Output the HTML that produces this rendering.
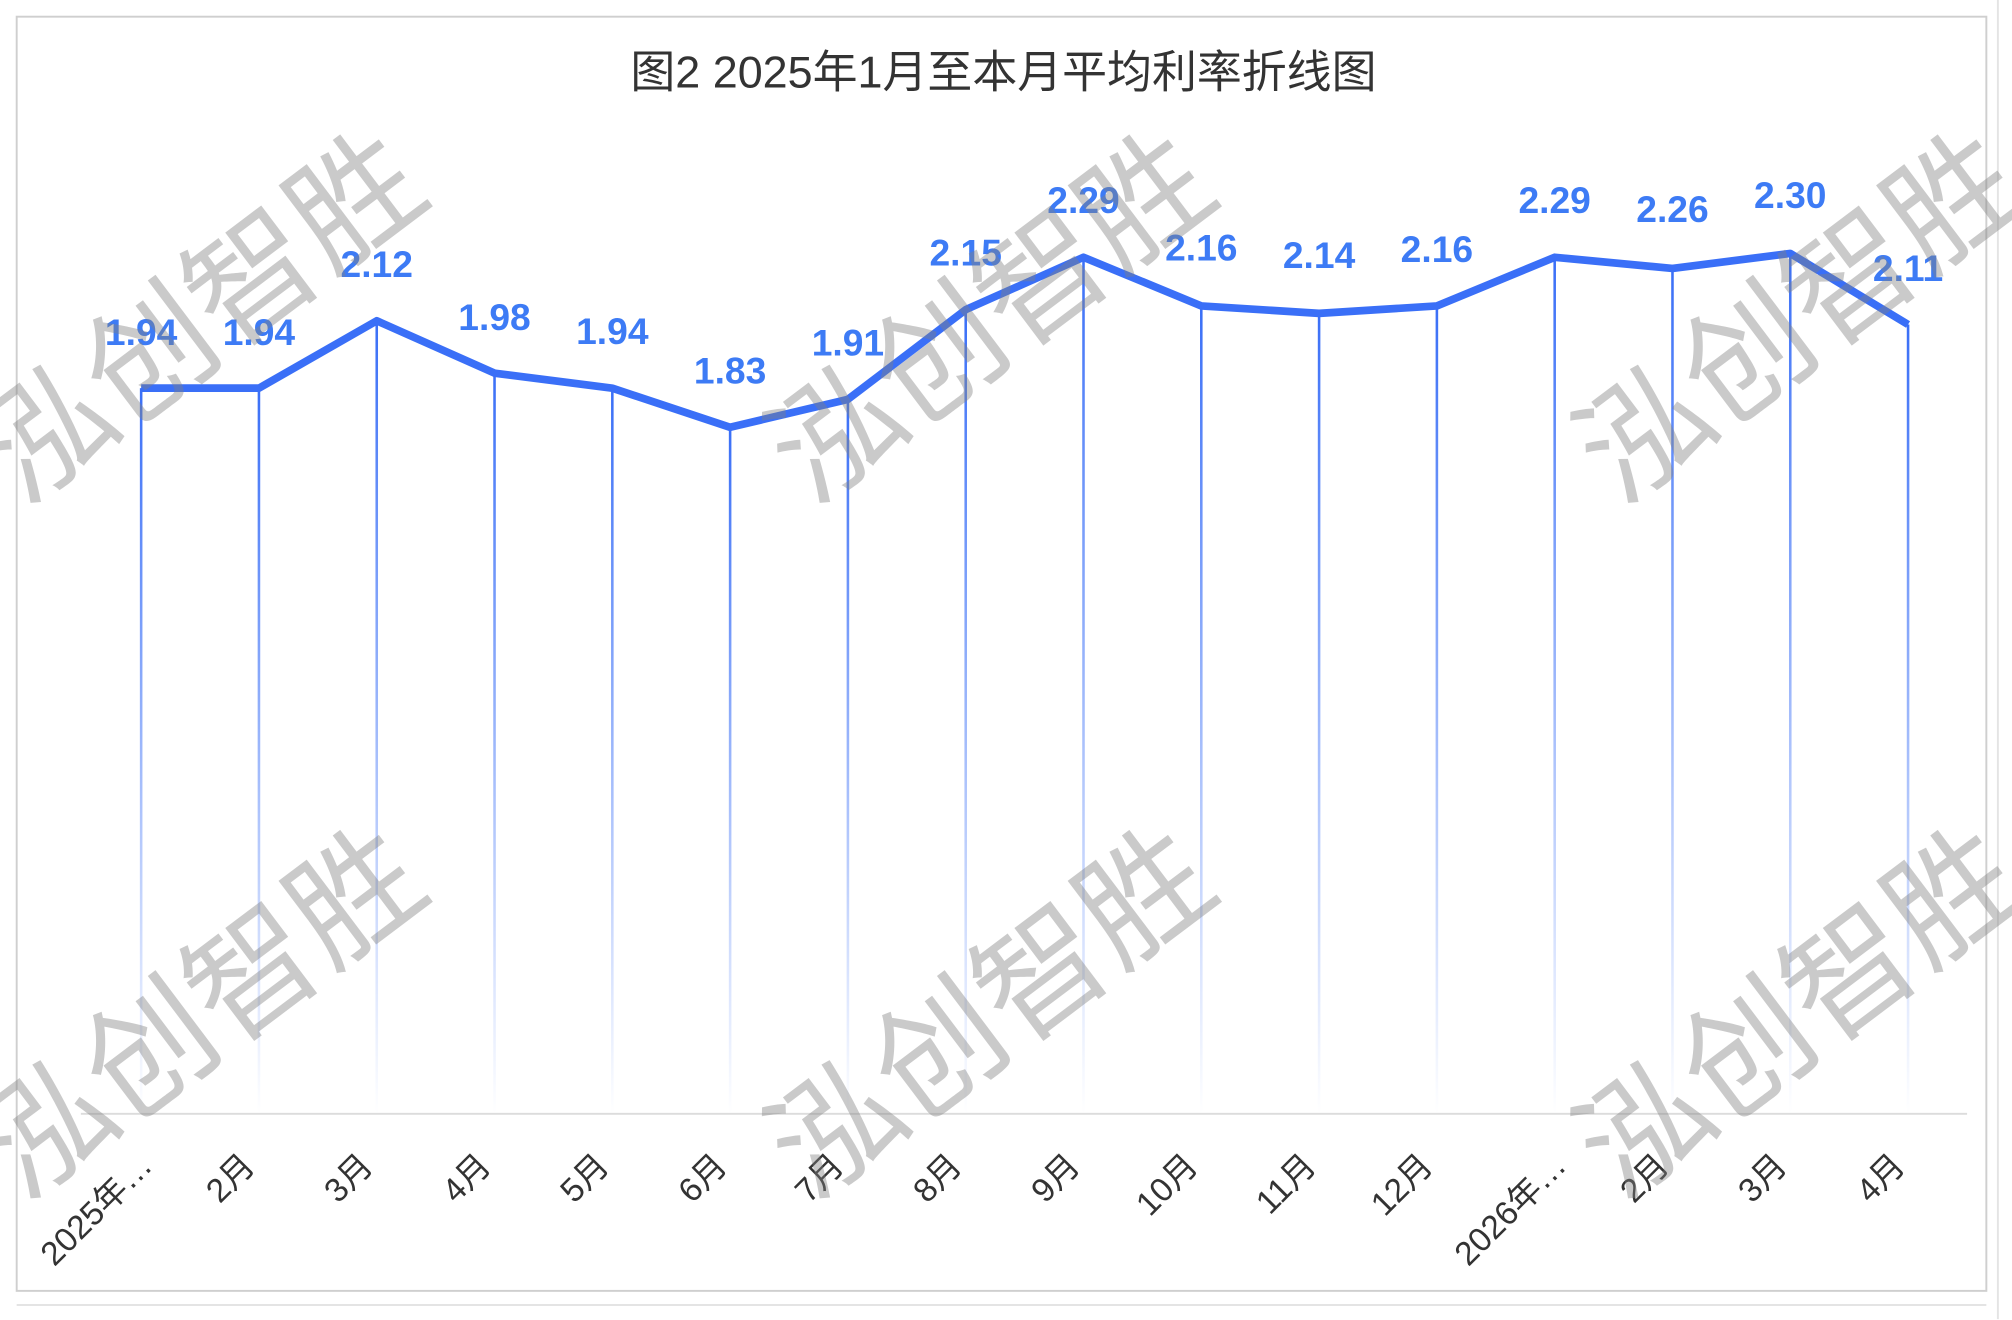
<!DOCTYPE html>
<html><head><meta charset="utf-8"><style>
html,body{margin:0;padding:0;background:#fff;}
svg{display:block}
text{font-family:"Liberation Sans","Noto Sans CJK SC",sans-serif}
</style></head><body>
<svg width="2012" height="1320" viewBox="0 0 1568 1028.7" preserveAspectRatio="none" xmlns="http://www.w3.org/2000/svg">
<defs>
<linearGradient id="g" x1="0" y1="0" x2="0" y2="1">
<stop offset="0" stop-color="#3a6ff7" stop-opacity="1"/>
<stop offset="1" stop-color="#3a6ff7" stop-opacity="0"/>
</linearGradient>
</defs>
<rect x="0" y="0" width="1568" height="1028.7" fill="#fff"/>
<rect x="13" y="13" width="1535" height="993" fill="none" stroke="#cfcfcf" stroke-width="1.5"/>
<line x1="13" y1="1017" x2="1548" y2="1017" stroke="#e4e4e4" stroke-width="1.5"/>
<line x1="1557" y1="0" x2="1557" y2="1028" stroke="#e4e4e4" stroke-width="1.5"/>
<text x="782" y="68" text-anchor="middle" font-size="35" fill="#333">图2  2025年1月至本月平均利率折线图</text>
<line x1="63" y1="868" x2="1533" y2="868" stroke="#dcdcdc" stroke-width="1.5"/>
<g fill="url(#g)">
<rect x="109" y="302.5" width="2" height="565.5"/>
<rect x="200.8" y="302.5" width="2" height="565.5"/>
<rect x="292.6" y="250" width="2" height="618"/>
<rect x="384.4" y="290.8" width="2" height="577.2"/>
<rect x="476.2" y="302.5" width="2" height="565.5"/>
<rect x="568" y="333" width="2" height="535"/>
<rect x="659.8" y="311.2" width="2" height="556.8"/>
<rect x="751.6" y="241.3" width="2" height="626.7"/>
<rect x="843.4" y="200.5" width="2" height="667.5"/>
<rect x="935.2" y="238.4" width="2" height="629.6"/>
<rect x="1027" y="244.2" width="2" height="623.8"/>
<rect x="1118.8" y="238.4" width="2" height="629.6"/>
<rect x="1210.6" y="200.5" width="2" height="667.5"/>
<rect x="1302.4" y="209.2" width="2" height="658.8"/>
<rect x="1394.2" y="197.5" width="2" height="670.5"/>
<rect x="1486" y="252.9" width="2" height="615.1"/>
</g>
<polyline fill="none" stroke="#3a6ff7" stroke-width="6" stroke-linejoin="round" points="110,302.5 201.8,302.5 293.6,250 385.4,290.8 477.2,302.5 569,333 660.8,311.2 752.6,241.3 844.4,200.5 936.2,238.4 1028,244.2 1119.8,238.4 1211.6,200.5 1303.4,209.2 1395.2,197.5 1487,252.9"/>
<g font-size="29" font-weight="bold" fill="#3d7bf5" text-anchor="middle">
<text x="110" y="269">1.94</text>
<text x="201.8" y="269">1.94</text>
<text x="293.6" y="216">2.12</text>
<text x="385.4" y="257">1.98</text>
<text x="477.2" y="268">1.94</text>
<text x="569" y="299">1.83</text>
<text x="660.8" y="277">1.91</text>
<text x="752.6" y="207">2.15</text>
<text x="844.4" y="166">2.29</text>
<text x="936.2" y="203">2.16</text>
<text x="1028" y="209">2.14</text>
<text x="1119.8" y="204">2.16</text>
<text x="1211.6" y="166">2.29</text>
<text x="1303.4" y="173">2.26</text>
<text x="1395.2" y="162">2.30</text>
<text x="1487" y="219">2.11</text>
</g>
<g font-size="26" fill="#333" text-anchor="end">
<text transform="translate(120,910) rotate(-45)">2025年…</text>
<text transform="translate(200,910) rotate(-45)">2月</text>
<text transform="translate(292,910) rotate(-45)">3月</text>
<text transform="translate(384,910) rotate(-45)">4月</text>
<text transform="translate(476,910) rotate(-45)">5月</text>
<text transform="translate(568,910) rotate(-45)">6月</text>
<text transform="translate(659,910) rotate(-45)">7月</text>
<text transform="translate(751,910) rotate(-45)">8月</text>
<text transform="translate(843,910) rotate(-45)">9月</text>
<text transform="translate(935,910) rotate(-45)">10月</text>
<text transform="translate(1027,910) rotate(-45)">11月</text>
<text transform="translate(1118,910) rotate(-45)">12月</text>
<text transform="translate(1222,910) rotate(-45)">2026年…</text>
<text transform="translate(1302,910) rotate(-45)">2月</text>
<text transform="translate(1394,910) rotate(-45)">3月</text>
<text transform="translate(1486,910) rotate(-45)">4月</text>
</g>
<g font-size="100" fill="#808080" fill-opacity="0.42">
<text transform="translate(18,395) rotate(-37)">泓创智胜</text>
<text transform="translate(633,395) rotate(-37)">泓创智胜</text>
<text transform="translate(1263,395) rotate(-37)">泓创智胜</text>
<text transform="translate(18,937) rotate(-37)">泓创智胜</text>
<text transform="translate(633,937) rotate(-37)">泓创智胜</text>
<text transform="translate(1263,937) rotate(-37)">泓创智胜</text>
</g>
</svg>
</body></html>
